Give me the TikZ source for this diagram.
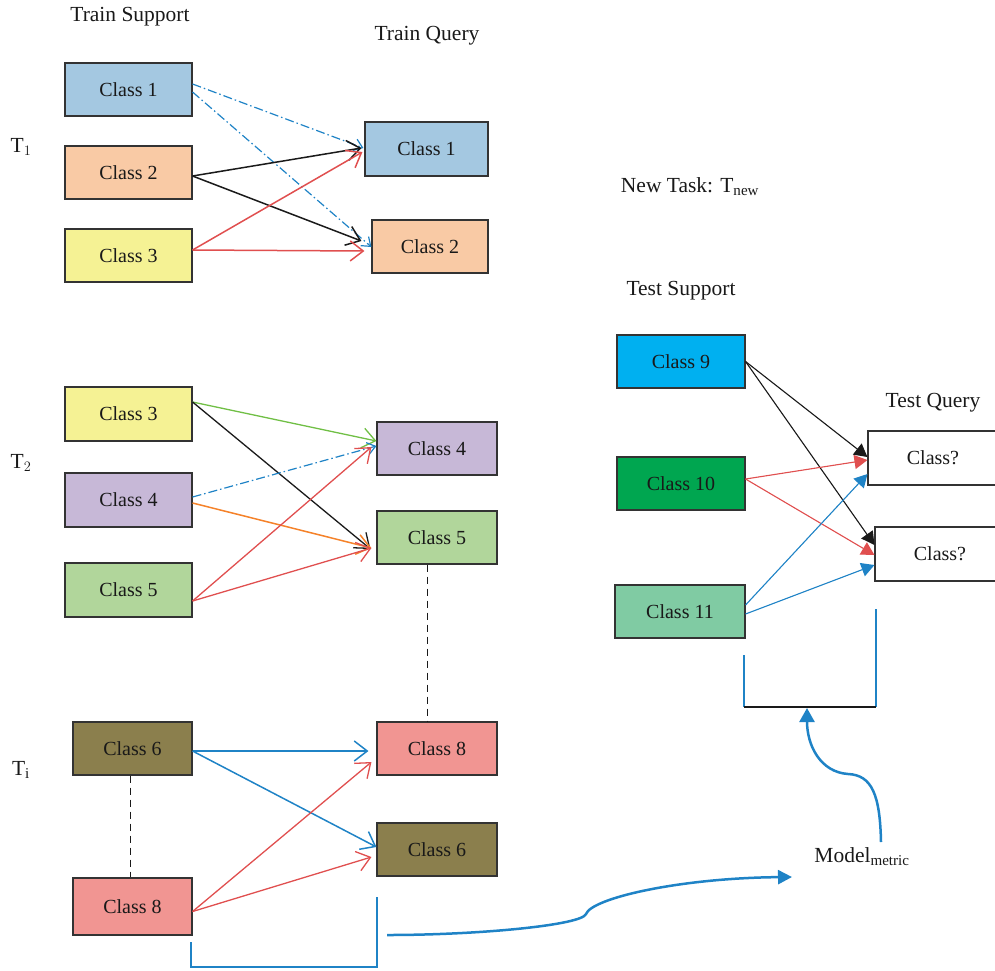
\documentclass[tikz,border=0pt]{standalone}
\usepackage{fontspec}
\setmainfont{Liberation Serif}
\usetikzlibrary{arrows.meta,calc}
\definecolor{cBlueBox}{RGB}{164,200,225}
\definecolor{cPeach}{RGB}{249,202,165}
\definecolor{cYellow}{RGB}{245,242,148}
\definecolor{cPurple}{RGB}{199,184,215}
\definecolor{cGreen}{RGB}{177,214,155}
\definecolor{cOlive}{RGB}{139,127,77}
\definecolor{cPink}{RGB}{241,149,146}
\definecolor{cCyan}{RGB}{0,176,240}
\definecolor{cDkGreen}{RGB}{0,166,80}
\definecolor{cMint}{RGB}{128,203,163}
\definecolor{aBlue}{RGB}{31,131,198}
\definecolor{aRed}{RGB}{224,79,79}
\definecolor{aGreen}{RGB}{112,191,69}
\definecolor{aOrange}{RGB}{245,130,42}
\definecolor{aBlack}{RGB}{26,26,26}
\tikzset{
  clsbox/.style={draw=black!80, line width=1.1pt, minimum width=127pt, minimum height=53pt, inner sep=0pt, font=\fontsize{20}{24}\selectfont, text=black!90},
  lbl/.style={inner sep=0pt, font=\fontsize{21.5}{26}\selectfont, text=black!90},
  barb/.style={-{Straight Barb[length=13pt,width=20pt]}, line width=1.5pt},
  smallbarb/.style={-{Straight Barb[length=8pt,width=12pt]}, line width=1.2pt},
  dashdotline/.style={dash pattern=on 9pt off 3pt on 1.5pt off 3pt},
  tri/.style={-{Triangle[length=13pt,width=14pt]}, line width=1.1pt},
  linkdash/.style={dash pattern=on 7pt off 5pt, line width=1pt, draw=aBlack},
  bracket/.style={draw=aBlue, line width=1.7pt},
}
\begin{document}
\begin{tikzpicture}[x=1pt,y=-1pt]
\useasboundingbox (0,0) rectangle (995,970);
% labels
\node[lbl] (lTS) at (130,17) {Train Support};
\node[lbl] (lTQ) at (427,36) {Train Query};
\node[lbl] (lT1) at (21,147) {T$_1$};
\node[lbl] (lT2) at (21,463) {T$_2$};
\node[lbl] (lTi) at (21,770) {T$_\mathrm{i}$};
\node[lbl] (lNew) at (690,187) {New Task: T$_\mathrm{new}$};
\node[lbl] (lTeS) at (681,291) {Test Support};
\node[lbl] (lTeQ) at (933,403) {Test Query};
\node[lbl] (model) at (862,857) {Model$_\mathrm{metric}$};
% T1
\node[clsbox, fill=cBlueBox] (s1c1) at (128.5,89.5) {Class 1};
\node[clsbox, fill=cPeach] (s1c2) at (128.5,172.5) {Class 2};
\node[clsbox, fill=cYellow] (s1c3) at (128.5,255.5) {Class 3};
\node[clsbox, fill=cBlueBox, minimum width=123pt, minimum height=54pt] (q1c1) at (426.5,149) {Class 1};
\node[clsbox, fill=cPeach, minimum width=116pt] (q1c2) at (430,246.5) {Class 2};
% T2
\node[clsbox, fill=cYellow, minimum height=54pt] (s2c3) at (128.5,414) {Class 3};
\node[clsbox, fill=cPurple, minimum height=54pt] (s2c4) at (128.5,500) {Class 4};
\node[clsbox, fill=cGreen, minimum height=54pt] (s2c5) at (128.5,590) {Class 5};
\node[clsbox, fill=cPurple, minimum width=120pt] (q2c4) at (437,448.5) {Class 4};
\node[clsbox, fill=cGreen, minimum width=120pt] (q2c5) at (437,537.5) {Class 5};
% Ti
\node[clsbox, fill=cOlive, minimum width=119pt] (s3c6) at (132.5,748.5) {Class 6};
\node[clsbox, fill=cPink, minimum width=119pt, minimum height=57pt] (s3c8) at (132.5,906.5) {Class 8};
\node[clsbox, fill=cPink, minimum width=120pt] (q3c8) at (437,748.5) {Class 8};
\node[clsbox, fill=cOlive, minimum width=120pt] (q3c6) at (437,849.5) {Class 6};
% Test
\node[clsbox, fill=cCyan, minimum width=128pt] (c9) at (681,361.5) {Class 9};
\node[clsbox, fill=cDkGreen, minimum width=128pt] (c10) at (681,483.5) {Class 10};
\node[clsbox, fill=cMint, minimum width=130pt] (c11) at (680,611.5) {Class 11};
\node[clsbox, fill=white, minimum width=130pt, minimum height=54pt] (cq1) at (933,458) {Class?};
\node[clsbox, fill=white, minimum width=130pt, minimum height=54pt] (cq2) at (940,554) {Class?};

% T1 arrows
\draw[smallbarb, dashdotline, draw=aBlue] ([yshift=5.5pt]s1c1.east) -- ([xshift=-1pt,yshift=1pt]q1c1.west);
\draw[smallbarb, dashdotline, draw=aBlue] ([yshift=-2.5pt]s1c1.east) -- ([yshift=-0.5pt]q1c2.west);
\draw[barb, draw=aBlack] ([yshift=-3.5pt]s1c2.east) -- ([xshift=-3pt,yshift=1pt]q1c1.west);
\draw[barb, draw=aBlack] ([yshift=-3.5pt]s1c2.east) -- ([xshift=-10pt,yshift=5.5pt]q1c2.west);
\draw[barb, draw=aRed] ([yshift=5.5pt]s1c3.east) -- ([xshift=-2pt,yshift=-3pt]q1c1.west);
\draw[barb, draw=aRed] ([yshift=5.5pt]s1c3.east) -- ([xshift=-7pt,yshift=-4.5pt]q1c2.west);
% T2 arrows
\draw[barb, line width=1.3pt, draw=aGreen] ([yshift=12pt]s2c3.east) -- ([yshift=7.5pt]q2c4.west);
\draw[barb, line width=1.3pt, draw=aBlack] ([yshift=12pt]s2c3.east) -- ([xshift=-6pt,yshift=-11.5pt]q2c5.west);
\draw[smallbarb, dashdotline, draw=aBlue] ([yshift=3pt]s2c4.east) -- ([yshift=2.5pt]q2c4.west);
\draw[barb, draw=aOrange] ([yshift=-3pt]s2c4.east) -- ([xshift=-5pt,yshift=-10.5pt]q2c5.west);
\draw[barb, line width=1.3pt, draw=aRed] ([yshift=-11pt]s2c5.east) -- ([xshift=-5pt,yshift=1.5pt]q2c4.west);
\draw[barb, line width=1.3pt, draw=aRed] ([yshift=-11pt]s2c5.east) -- ([xshift=-5pt,yshift=-10.5pt]q2c5.west);
% Ti arrows
\draw[barb, draw=aBlue] ([yshift=-2.5pt]s3c6.east) -- ([xshift=-8pt,yshift=-2.5pt]q3c8.west);
\draw[barb, draw=aBlue] ([yshift=-2.5pt]s3c6.east) -- ([yshift=2.5pt]q3c6.west);
\draw[barb, line width=1.3pt, draw=aRed] ([yshift=-5pt]s3c8.east) -- ([xshift=-5pt,yshift=-13.5pt]q3c8.west);
\draw[barb, line width=1.3pt, draw=aRed] ([yshift=-5pt]s3c8.east) -- ([xshift=-5pt,yshift=-7.5pt]q3c6.west);
% dashed links
\draw[linkdash] ([xshift=-10pt]q2c5.south) -- ([xshift=-10pt]q3c8.north);
\draw[linkdash] ([xshift=-2pt]s3c6.south) -- ([xshift=-2pt]s3c8.north);
% Test arrows
\draw[tri, draw=aBlack, fill=aBlack] (c9.east) -- ([yshift=1pt]cq1.west);
\draw[tri, draw=aBlack, fill=aBlack] (c9.east) -- ([yshift=9pt]cq2.west);
\draw[tri, draw=aRed, fill=aRed] ([yshift=4.5pt]c10.east) -- ([yshift=-2pt]cq1.west);
\draw[tri, draw=aRed, fill=aRed] ([yshift=4.5pt]c10.east) -- ([yshift=-1pt]cq2.west);
\draw[tri, draw=aBlue, fill=aBlue] ([yshift=6.5pt]c11.east) -- ([yshift=-16pt]cq1.west);
\draw[tri, draw=aBlue, fill=aBlue] ([yshift=-2.5pt]c11.east) -- ([yshift=-11pt]cq2.west);
% brackets
\coordinate (brA1) at (191,942);
\coordinate (brA2) at (377,897);
\draw[bracket] (brA1) |- (brA2 |- 0,967) -- (brA2);
\coordinate (brB1) at (744,655);
\coordinate (brB2) at (876,609);
\coordinate (brB3) at (744,707);
\coordinate (brB4) at (876,707);
\draw[bracket] (brB1) -- (brB3);
\draw[bracket] (brB2) -- (brB4);
\draw[line width=1.7pt, draw=aBlack] (brB3) -- (brB4);
% curves
\coordinate (cvStart) at (387,935);
\coordinate (cvEnd) at (792,877);
\draw[draw=aBlue, line width=2.5pt, -{Triangle[length=14pt,width=14pt]}]
  (cvStart) .. controls (480,935) and (582,925) .. (586,914)
  .. controls (592,898) and (680,878) .. (cvEnd);
\coordinate (cvStart2) at (881,842);
\coordinate (cvEnd2) at (807,708);
\draw[draw=aBlue, line width=2.5pt, -{Triangle[length=14pt,width=15pt]}]
  (cvStart2) .. controls (880,795) and (872,775) .. (848,774)
  .. controls (820,772) and (807,745) .. (cvEnd2);
\end{tikzpicture}
\end{document}
